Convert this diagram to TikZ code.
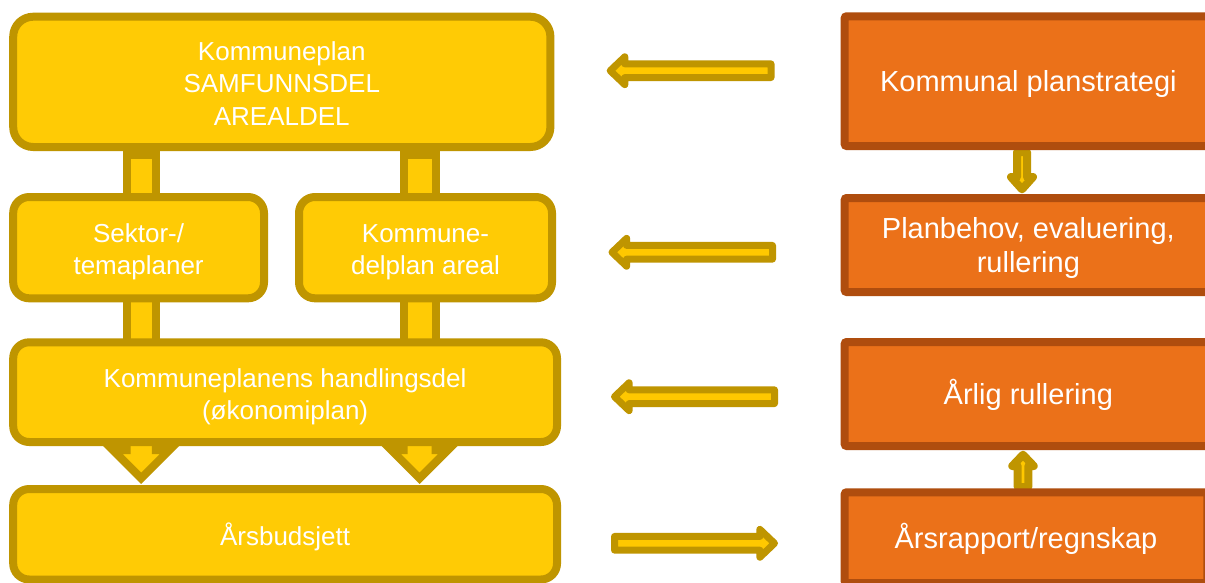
\documentclass[tikz,border=0pt]{standalone}
\usepackage{fontspec}
\newfontfamily\lfont{Liberation Sans}
\definecolor{yfill}{HTML}{FFCB05}
\definecolor{ydraw}{HTML}{BF9500}
\definecolor{ofill}{HTML}{EB7119}
\definecolor{odraw}{HTML}{AF4D0E}
\definecolor{afill}{HTML}{FFC800}
% struts: first line (taller, lowers the text block), following lines
\newcommand\lfst{\rule[-5.4pt]{0pt}{32.8pt}}
\newcommand\lstr{\rule[-5.4pt]{0pt}{26.8pt}}
\newcommand\rfst{\rule[-6.15pt]{0pt}{33.1pt}}
\newcommand\rstr{\rule[-6.15pt]{0pt}{27.1pt}}
% left-pointing block arrow: y, tip x, tail x
\newcommand\harrL[3]{\draw[harrow] (#3,#1-6.85) -- (#2+14.6,#1-6.85) -- (#2+14.6,#1-13.9) -- (#2,#1) -- (#2+14.6,#1+13.9) -- (#2+14.6,#1+6.85) -- (#3,#1+6.85) -- cycle;}
% right-pointing block arrow: y, tip x, tail x
\newcommand\harrR[3]{\draw[harrow] (#3,#1-6.85) -- (#2-14.6,#1-6.85) -- (#2-14.6,#1-13.9) -- (#2,#1) -- (#2-14.6,#1+13.9) -- (#2-14.6,#1+6.85) -- (#3,#1+6.85) -- cycle;}
\begin{document}
\begin{tikzpicture}[x=1pt,y=-1pt,
  ybox/.style={draw=ydraw, fill=yfill, line width=8pt, rounded corners=16pt,
    inner sep=0pt, outer sep=0pt, text=white, align=center,
    font=\lfont\fontsize{26}{32.3}\selectfont},
  obox/.style={draw=odraw, fill=ofill, line width=8pt, rounded corners=2pt,
    inner sep=0pt, outer sep=0pt, text=white, align=center,
    font=\lfont\fontsize{29}{33.4}\selectfont},
  pillar/.style={draw=ydraw, fill=yfill, line width=8pt},
  harrow/.style={draw=ydraw, fill=afill, line width=7pt, line join=round},
  varrow/.style={draw=ydraw, fill=afill, line width=8pt, line join=round}]
\useasboundingbox (0,0) rectangle (1205,582);
\clip (0,0) rectangle (1205,582);
\fill[white] (0,0) rectangle (1205,582);

% pillars between the yellow boxes
\draw[pillar] (126.6,155) rectangle (155.8,210);
\draw[pillar] (403.6,155) rectangle (435.5,210);
\draw[pillar] (126.6,285) rectangle (155.8,355);
\draw[pillar] (403.6,285) rectangle (435.5,355);

% down arrows from the action plan to the budget
\draw[pillar] (126.6,420) -- (126.6,450) -- (112.9,450) -- (141.2,478.3) -- (169.5,450) -- (155.8,450) -- (155.8,420) -- cycle;
\draw[pillar] (403.6,420) -- (403.6,450) -- (391.25,450) -- (419.55,478.3) -- (447.85,450) -- (435.5,450) -- (435.5,420) -- cycle;

% small arrows between orange boxes
\draw[varrow] (1017,152) -- (1017,177) -- (1011,177) -- (1022,189.3) -- (1033,177) -- (1027,177) -- (1027,152) -- cycle;
\draw[varrow] (1017.7,487) -- (1017.7,466) -- (1012.25,466) -- (1023,454.7) -- (1033.75,466) -- (1028.3,466) -- (1028.3,487) -- cycle;

% yellow boxes
\node[ybox, rounded corners=20pt, minimum width=537.2pt, minimum height=130.3pt] (A) at (281.8,81.85)
  {\lfst Kommuneplan\\\lstr SAMFUNNSDEL\\\lstr AREALDEL};
\node[ybox, minimum width=250.8pt, minimum height=101.3pt] (B1) at (138.6,247.65)
  {\lfst Sektor-/\\\lstr temaplaner};
\node[ybox, minimum width=253pt, minimum height=101.3pt] (B2) at (425.5,247.65)
  {\lfst Kommune-\\\lstr delplan areal};
\node[ybox, minimum width=543.8pt, minimum height=99.7pt] (C) at (285.1,392.15)
  {\lfst Kommuneplanens handlingsdel\\\lstr (økonomiplan)};
\node[ybox, minimum width=543.8pt, minimum height=90.5pt] (D) at (285.1,534.25)
  {\lfst Årsbudsjett};

% orange boxes
\node[obox, minimum width=367.3pt, minimum height=129.7pt] (O1) at (1028.35,81.15)
  {\rfst Kommunal planstrategi};
\node[obox, minimum width=367.3pt, minimum height=94pt] (O2) at (1028.35,245)
  {\rfst Planbehov, evaluering,\\\rstr rullering};
\node[obox, minimum width=367.3pt, minimum height=104pt] (O3) at (1028.35,394)
  {\rfst Årlig rullering};
\node[obox, minimum width=362.6pt, minimum height=90.8pt] (O4) at (1026,537.7)
  {\rfst Årsrapport/regnskap};

% horizontal block arrows
\harrL{70.7}{610.2}{771}
\harrL{252.3}{612}{772.5}
\harrL{396.7}{614.5}{774.5}
\harrR{543.3}{774.5}{614.5}
\end{tikzpicture}
\end{document}
